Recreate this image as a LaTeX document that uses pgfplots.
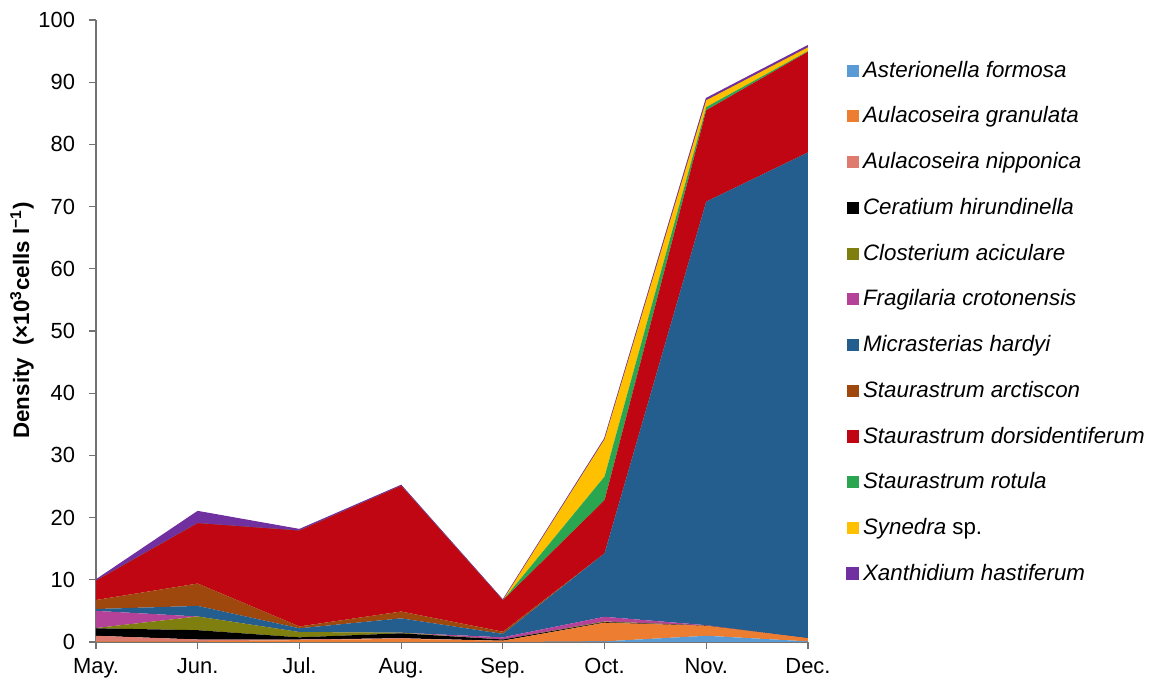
\documentclass[border=0pt]{standalone}
\usepackage{pgfplots}
\pgfplotsset{compat=1.18}
\usepackage{fontspec}
\setmainfont{Liberation Sans}
\definecolor{cAst}{RGB}{91,155,213}
\definecolor{cAgr}{RGB}{237,125,49}
\definecolor{cAni}{RGB}{222,122,110}
\definecolor{cCer}{RGB}{0,0,0}
\definecolor{cClo}{RGB}{127,127,16}
\definecolor{cFra}{RGB}{180,66,152}
\definecolor{cMic}{RGB}{35,94,143}
\definecolor{cSar}{RGB}{158,72,14}
\definecolor{cSdo}{RGB}{192,6,18}
\definecolor{cSro}{RGB}{42,166,80}
\definecolor{cSyn}{RGB}{255,192,0}
\definecolor{cXan}{RGB}{112,48,160}
\begin{document}
\begin{tikzpicture}
\useasboundingbox (-48bp,-19bp) rectangle (527.5bp,321bp);
\begin{axis}[
  scale only axis,
  width=356bp, height=311bp,
  xmin=0, xmax=7, ymin=0, ymax=100,
  stack plots=y,
  axis lines*=left,
  axis line style={black!55, line width=0.6pt},
  xtick={0,...,7},
  xticklabels={May.,Jun.,Jul.,Aug.,Sep.,Oct.,Nov.,Dec.},
  ytick={0,10,...,100},
  tick align=outside,
  tick style={black!55, line width=0.6pt},
  major tick length=3.5bp,
  tick label style={font=\fontsize{11}{13}\selectfont},
  /pgf/number format/assume math mode=true,
  xticklabel style={yshift=-1bp},
  yticklabel style={xshift=-3.5bp},
  ylabel={\bfseries Density\ \ (×10\textsuperscript{3}cells l\textsuperscript{−1})},
  ylabel style={at={(axis description cs:-0.104,0.517)}, anchor=center, font=\fontsize{11.2}{13}\selectfont},
  legend cell align=left,
  legend style={draw=none, fill=none, at={(rel axis cs:1.053,0.941)}, anchor=north west,
    font=\fontsize{11.2}{13}\selectfont\itshape, row sep=9.3bp, inner sep=0pt},
  legend image code/.code={\fill[#1] (0bp,-3bp) rectangle (6bp,3bp);},
  every axis plot/.append style={draw=none, mark=none},
]
\addplot[fill=cAst] coordinates {(0,0) (1,0) (2,0) (3,0) (4,0) (5,0.1) (6,1.0) (7,0.1)} \closedcycle;
\addlegendentry{Asterionella formosa}
\addplot[fill=cAgr] coordinates {(0,0.1) (1,0.1) (2,0.3) (3,0.5) (4,0.2) (5,3.0) (6,1.6) (7,0.5)} \closedcycle;
\addlegendentry{Aulacoseira granulata}
\addplot[fill=cAni] coordinates {(0,0.9) (1,0.3) (2,0.1) (3,0.1) (4,0) (5,0) (6,0) (7,0)} \closedcycle;
\addlegendentry{Aulacoseira nipponica}
\addplot[fill=cCer] coordinates {(0,1.2) (1,1.5) (2,0.35) (3,0.8) (4,0.2) (5,0.1) (6,0.05) (7,0)} \closedcycle;
\addlegendentry{Ceratium hirundinella}
\addplot[fill=cClo] coordinates {(0,0.05) (1,2.2) (2,0.85) (3,0.1) (4,0) (5,0.1) (6,0) (7,0)} \closedcycle;
\addlegendentry{Closterium aciculare}
\addplot[fill=cFra] coordinates {(0,2.75) (1,0) (2,0) (3,0) (4,0.35) (5,0.75) (6,0.05) (7,0)} \closedcycle;
\addlegendentry{Fragilaria crotonensis}
\addplot[fill=cMic] coordinates {(0,0.3) (1,1.7) (2,0.6) (3,2.3) (4,0.55) (5,10.2) (6,68.1) (7,78.1)} \closedcycle;
\addlegendentry{Micrasterias hardyi}
\addplot[fill=cSar] coordinates {(0,1.45) (1,3.6) (2,0.3) (3,1.1) (4,0.35) (5,0) (6,0) (7,0)} \closedcycle;
\addlegendentry{Staurastrum arctiscon}
\addplot[fill=cSdo] coordinates {(0,3.1) (1,9.7) (2,15.4) (3,20.2) (4,5.05) (5,8.55) (6,14.7) (7,16.2)} \closedcycle;
\addlegendentry{Staurastrum dorsidentiferum}
\addplot[fill=cSro] coordinates {(0,0) (1,0) (2,0) (3,0) (4,0) (5,3.8) (6,0.5) (7,0.1)} \closedcycle;
\addlegendentry{Staurastrum rotula}
\addplot[fill=cSyn] coordinates {(0,0) (1,0) (2,0) (3,0) (4,0) (5,6.0) (6,1.1) (7,0.6)} \closedcycle;
\addlegendentry{Synedra \upshape sp.}
\addplot[fill=cXan, draw=cXan, line width=0.5pt] coordinates {(0,0.15) (1,1.9) (2,0.2) (3,0.1) (4,0.05) (5,0.1) (6,0.3) (7,0.3)} \closedcycle;
\addlegendentry{Xanthidium hastiferum}
\end{axis}
\end{tikzpicture}
\end{document}
